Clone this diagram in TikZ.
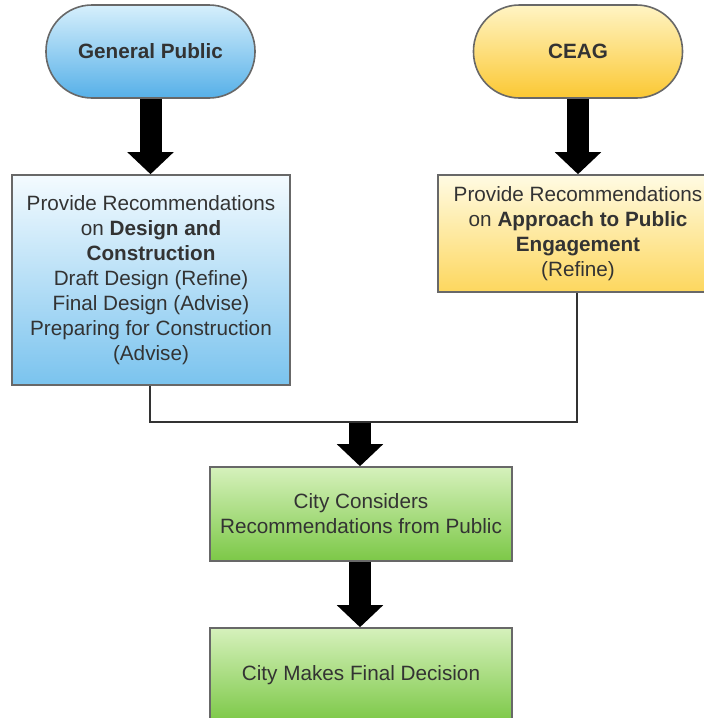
\documentclass[tikz,border=0pt]{standalone}
\usepackage{fontspec}
\setmainfont{Liberation Sans}
\usetikzlibrary{arrows.meta}
\definecolor{txt}{HTML}{333333}
\definecolor{edge}{HTML}{686868}
\definecolor{bluetop}{HTML}{D6EFFC}
\definecolor{bluebot}{HTML}{56B0E8}
\definecolor{boxbluetop}{HTML}{F4FBFF}
\definecolor{boxbluebot}{HTML}{7AC3EE}
\definecolor{yeltop}{HTML}{FFF4C4}
\definecolor{yelbot}{HTML}{FBC833}
\definecolor{boxyeltop}{HTML}{FFFBE3}
\definecolor{boxyelbot}{HTML}{FDD75E}
\definecolor{greentop}{HTML}{D6F1BC}
\definecolor{greenbot}{HTML}{7CC847}
\tikzset{
  base/.style={draw=edge, line width=1.6pt, text=txt, align=center, inner sep=0pt,
    font=\fontsize{20.7}{25}\selectfont},
  pill/.style={base, rounded corners=46pt, minimum width=209pt, minimum height=93pt},
  boxnode/.style={base},
  bigarrow/.style={line width=22pt, black,
    -{Triangle[width=45pt,length=22pt]}},
  thin/.style={draw=txt, line width=1.6pt}
}
\begin{document}
\begin{tikzpicture}[x=1pt,y=-1pt]
\useasboundingbox (0,0) rectangle (704,718);
\clip (0,0) rectangle (704,718);
\node[pill, top color=bluetop, bottom color=bluebot] (gp) at (150.5,51.5) {\textbf{General Public}};
\node[pill, top color=yeltop, bottom color=yelbot] (ceag) at (578,51.5) {\textbf{CEAG}};
\node[boxnode, top color=boxbluetop, bottom color=boxbluebot, minimum width=278pt, minimum height=210pt] (blue) at (151,280)
  {Provide Recommendations\\on \textbf{Design and}\\\textbf{Construction}\\Draft Design (Refine)\\Final Design (Advise)\\Preparing for Construction\\(Advise)};
\node[boxnode, top color=boxyeltop, bottom color=boxyelbot, minimum width=280pt, minimum height=117pt] (yel) at (578,233.5)
  {Provide Recommendations\\on \textbf{Approach to Public}\\\textbf{Engagement}\\(Refine)};
\node[boxnode, top color=greentop, bottom color=greenbot, minimum width=302pt, minimum height=94pt] (g1) at (361,514)
  {City Considers\\Recommendations from Public};
\node[boxnode, top color=greentop, bottom color=greenbot, minimum width=302pt, minimum height=94pt] (g2) at (361,675)
  {City Makes Final Decision};
\coordinate (lj) at (150,422);
\coordinate (rj) at (577,422);
\coordinate (mj) at (360,422);
\draw[thin] (blue.south -| lj) -- (lj) -- (rj) -- (yel.south -| rj);
\draw[bigarrow] (gp.south) -- (gp.south |- blue.north);
\draw[bigarrow] (ceag.south) -- (ceag.south |- yel.north);
\draw[bigarrow] ([yshift=-0.8pt]mj) -- (mj |- g1.north);
\draw[bigarrow] (g1.south -| mj) -- (mj |- g2.north);
\end{tikzpicture}
\end{document}
